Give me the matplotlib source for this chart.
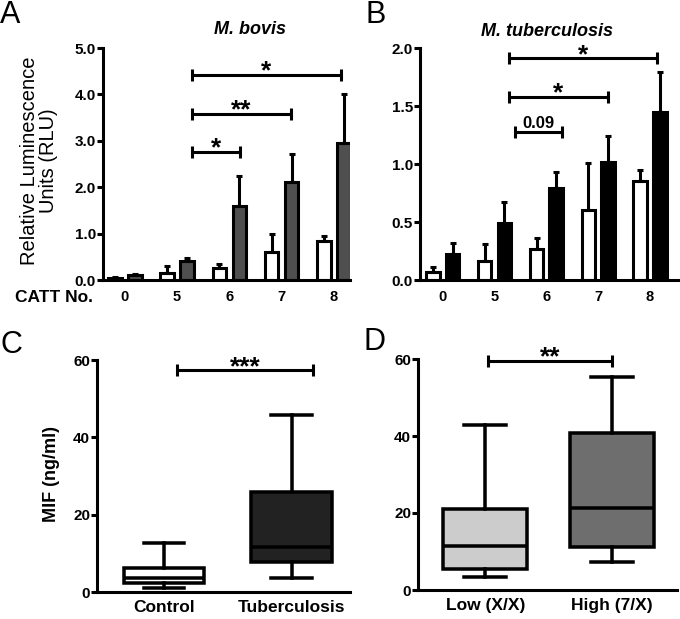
import numpy as np
import matplotlib
matplotlib.use("Agg")
import matplotlib.pyplot as plt

plt.rcParams["font.family"] = ["Liberation Sans", "DejaVu Sans"]
plt.rcParams["font.weight"] = "bold"
plt.rcParams["axes.labelweight"] = "bold"

# panel A / B: CATT repeat number vs luminescence
catt_labels = ["0", "5", "6", "7", "8"]

bovis_white = [0.05, 0.15, 0.25, 0.60, 0.85]
bovis_white_err = [0.07, 0.30, 0.35, 1.00, 0.95]
bovis_dark = [0.10, 0.42, 1.60, 2.12, 2.95]
bovis_dark_err = [0.13, 0.47, 2.25, 2.72, 4.00]

tb_white = [0.07, 0.16, 0.27, 0.60, 0.85]
tb_white_err = [0.115, 0.31, 0.365, 1.01, 0.95]
tb_dark = [0.22, 0.49, 0.79, 1.02, 1.445]
tb_dark_err = [0.32, 0.675, 0.93, 1.24, 1.79]

# panel C / D: box stats [whislo, q1, med, q3, whishi]
mif_groups = ["Control", "Tuberculosis"]
mif_control = [1.1, 2.2, 3.5, 6.3, 12.7]
mif_tb = [3.7, 7.7, 11.7, 25.9, 45.9]

geno_groups = ["Low (X/X)", "High (7/X)"]
geno_low = [3.3, 5.4, 11.4, 21.0, 42.9]
geno_high = [7.4, 11.1, 21.4, 40.9, 55.2]

# significance brackets: (x0, x1, y, label)
bovis_sig = [(1.28, 2.20, 2.76, "*"), (1.28, 3.18, 3.58, "**"), (1.28, 4.13, 4.42, "*")]
tb_sig = [(1.39, 2.30, 1.28, "0.09"), (1.28, 3.19, 1.58, "*"), (1.28, 4.14, 1.91, "*")]
mif_sig = [(1.10, 2.17, 57.3, "***")]
geno_sig = [(1.02, 2.00, 59.5, "**")]

LW = 2.2


def style_axes(ax, xsize=10.5, xpad=7):
    for side in ["top", "right"]:
        ax.spines[side].set_visible(False)
    for side in ["left", "bottom"]:
        ax.spines[side].set_linewidth(LW)
    ax.tick_params(axis="y", length=4, width=LW, labelsize=11, pad=1)
    ax.tick_params(axis="x", length=0, labelsize=xsize, pad=xpad)


def add_brackets(ax, brackets, ms=9, fs=19):
    for x0, x1, y, label in brackets:
        ax.plot([x0, x1], [y, y], color="black", lw=LW, marker="|",
                markersize=ms, markeredgewidth=LW, clip_on=False,
                solid_capstyle="butt")
        if label.startswith("*"):
            ax.annotate(label, ((x0 + x1) / 2, y), xytext=(0, -2.5),
                        textcoords="offset points", ha="center", va="baseline",
                        fontsize=fs, fontweight="bold")
        else:
            ax.annotate(label, ((x0 + x1) / 2, y), xytext=(0, 2.5),
                        textcoords="offset points", ha="center", va="baseline",
                        fontsize=12, fontweight="bold")


def bar_panel(ax, white, white_err, dark, dark_err, dark_color):
    x = np.arange(len(catt_labels))
    width = 0.26
    off = 0.19
    lo = np.zeros(len(x))
    ekw = dict(elinewidth=LW, capsize=2.5, capthick=LW, ecolor="black")
    ax.bar(x - off, white, width, color="white", edgecolor="black", linewidth=LW,
           yerr=[lo, np.array(white_err) - np.array(white)], error_kw=ekw, zorder=2)
    ax.bar(x + off, dark, width, color=dark_color, edgecolor="black", linewidth=LW,
           yerr=[lo, np.array(dark_err) - np.array(dark)], error_kw=ekw, zorder=2)
    ax.set_xticks(x)
    ax.set_xticklabels(catt_labels)


def box_panel(ax, names, stats_list, colors, width):
    stats = []
    for name, s in zip(names, stats_list):
        stats.append(dict(label=name, whislo=s[0], q1=s[1], med=s[2],
                          q3=s[3], whishi=s[4], fliers=[]))
    blw = LW * 1.15
    bp = ax.bxp(stats, positions=[1, 2], widths=width, patch_artist=True,
                showfliers=False,
                boxprops=dict(linewidth=blw, edgecolor="black"),
                medianprops=dict(color="black", linewidth=blw),
                whiskerprops=dict(color="black", linewidth=blw),
                capprops=dict(color="black", linewidth=blw),
                capwidths=width / 2)
    for patch, c in zip(bp["boxes"], colors):
        patch.set_facecolor(c)


fig = plt.figure(figsize=(6.8, 6.19), dpi=100)
W, H = 680.0, 619.0


def make_axes(x0, x1, ytop, ybot):
    return fig.add_axes([x0 / W, 1 - ybot / H, (x1 - x0) / W, (ybot - ytop) / H])


# A
axA = make_axes(103, 350, 48, 280)
bar_panel(axA, bovis_white, bovis_white_err, bovis_dark, bovis_dark_err, "#4f4f4f")
axA.set_xlim(-0.42, 4.31)
axA.set_ylim(0, 5.0)
axA.set_yticks([0, 1, 2, 3, 4, 5])
axA.set_yticklabels(["0.0", "1.0", "2.0", "3.0", "4.0", "5.0"])
style_axes(axA)
add_brackets(axA, bovis_sig)
fig.text(250 / W, 1 - 30 / H, "M. bovis", ha="center", va="center",
         fontsize=13, fontweight="bold", style="italic")
fig.text(39 / W, 1 - 161 / H, "Relative Luminescence\nUnits (RLU)", rotation=90,
         ha="center", va="center", multialignment="center", fontsize=14.5,
         fontweight="normal", linespacing=1.05)
axA.text(-0.04, -0.075, "CATT No.", transform=axA.transAxes, ha="right",
         va="center", fontsize=12.5, fontweight="bold")

# B
axB = make_axes(420, 680, 48, 280)
bar_panel(axB, tb_white, tb_white_err, tb_dark, tb_dark_err, "black")
axB.set_xlim(-0.44, 4.58)
axB.set_ylim(0, 2.0)
axB.set_yticks([0, 0.5, 1.0, 1.5, 2.0])
axB.set_yticklabels(["0.0", "0.5", "1.0", "1.5", "2.0"])
style_axes(axB)
add_brackets(axB, tb_sig)
fig.text(547 / W, 1 - 31 / H, "M. tuberculosis", ha="center", va="center",
         fontsize=13, fontweight="bold", style="italic")

# C
axC = make_axes(97, 350, 360, 592)
box_panel(axC, mif_groups, [mif_control, mif_tb], ["white", "#222222"], 0.63)
axC.set_xlim(0.47, 2.46)
axC.set_ylim(0, 60)
axC.set_yticks([0, 20, 40, 60])
style_axes(axC, xsize=12.5, xpad=6)
add_brackets(axC, mif_sig)
fig.text(52 / W, 1 - 474 / H, "MIF (ng/ml)", rotation=90, ha="center",
         va="center", fontsize=13, fontweight="bold")

# D
axD = make_axes(418, 677, 359, 590)
box_panel(axD, geno_groups, [geno_low, geno_high], ["#cccccc", "#6e6e6e"], 0.66)
axD.set_xlim(0.47, 2.51)
axD.set_ylim(0, 60)
axD.set_yticks([0, 20, 40, 60])
style_axes(axD, xsize=12.5, xpad=6)
add_brackets(axD, geno_sig)

# panel letters
for letter, (px, py) in zip("ABCD", [(0, 0), (366, 0), (0, 330), (364, 327)]):
    fig.text(px / W, 1 - py / H, letter, ha="left", va="top", fontsize=22,
             fontweight="normal")

fig.savefig("out.png", dpi=100)
plt.close(fig)
